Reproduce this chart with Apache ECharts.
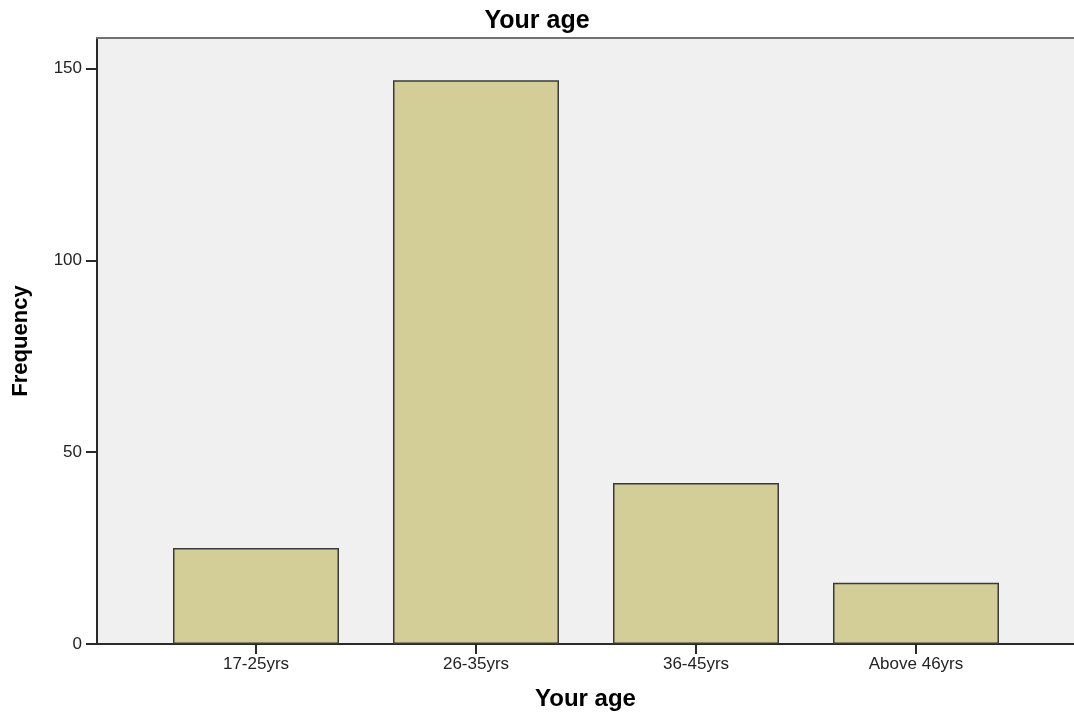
<!DOCTYPE html>
<html>
<head>
<meta charset="utf-8">
<script src="https://cdn.jsdelivr.net/npm/echarts@6/dist/echarts.min.js"></script>
<style>html,body{margin:0;padding:0;background:#fff}#c{width:1074px;height:716px}</style>
</head>
<body>
<div id="c"></div>
<script>
const categories = ['17-25yrs', '26-35yrs', '36-45yrs', 'Above 46yrs'];
const frequency = [25, 147, 42, 16];
const yTicks = [0, 50, 100, 150];

const FONT = '"Liberation Sans", Arial, sans-serif';
const chart = echarts.init(document.getElementById('c'), null, {renderer: 'canvas'});
const catIdx = categories.map((c, i) => i);
const X_MIN = -0.7227, X_MAX = 3.7182;
chart.setOption({
  backgroundColor: '#ffffff',
  animation: false,
  title: {
    text: 'Your age', left: 'center', top: 4,
    textStyle: {fontFamily: FONT, fontSize: 25, fontWeight: 'bold', color: '#000'}
  },
  grid: {
    left: 97, right: 0, top: 38, bottom: 71,
    show: true, backgroundColor: '#f0f0f0', borderWidth: 0
  },
  xAxis: [{
    type: 'value', min: X_MIN, max: X_MAX,
    name: 'Your age', nameLocation: 'middle', nameGap: 43,
    nameTextStyle: {fontFamily: FONT, fontSize: 24, fontWeight: 'bold', color: '#000'},
    axisLine: {show: true, onZero: false, lineStyle: {color: '#2a2a2a', width: 2}},
    axisTick: {show: true, customValues: catIdx, length: 10, lineStyle: {color: '#2a2a2a', width: 2}},
    axisLabel: {customValues: catIdx, formatter: v => categories[Math.round(v)] || '', margin: 12,
      fontFamily: FONT, fontSize: 17, color: '#222'},
    splitLine: {show: false}
  }, {
    type: 'value', position: 'top', min: X_MIN, max: X_MAX,
    axisLine: {show: true, onZero: false, lineStyle: {color: '#707070', width: 2}},
    axisTick: {show: false}, axisLabel: {show: false}, splitLine: {show: false}
  }],
  yAxis: {
    type: 'value', min: 0, max: 158, interval: 50,
    name: 'Frequency', nameLocation: 'middle', nameGap: 65,
    nameTextStyle: {fontFamily: FONT, fontSize: 22, fontWeight: 'bold', color: '#000'},
    axisLine: {show: true, onZero: false, lineStyle: {color: '#2a2a2a', width: 2}},
    axisTick: {show: true, customValues: yTicks, length: 11, lineStyle: {color: '#2a2a2a', width: 2}},
    axisLabel: {margin: 15, fontFamily: FONT, fontSize: 17, color: '#222',
      customValues: yTicks},
    splitLine: {show: false}
  },
  series: [{
    type: 'bar',
    xAxisIndex: 0,
    data: frequency.map((v, i) => [i, v]),
    barWidth: 166,
    itemStyle: {color: '#d3cd97', borderColor: '#3a3a3a', borderWidth: 1.5}
  }]
});
</script>
</body>
</html>
